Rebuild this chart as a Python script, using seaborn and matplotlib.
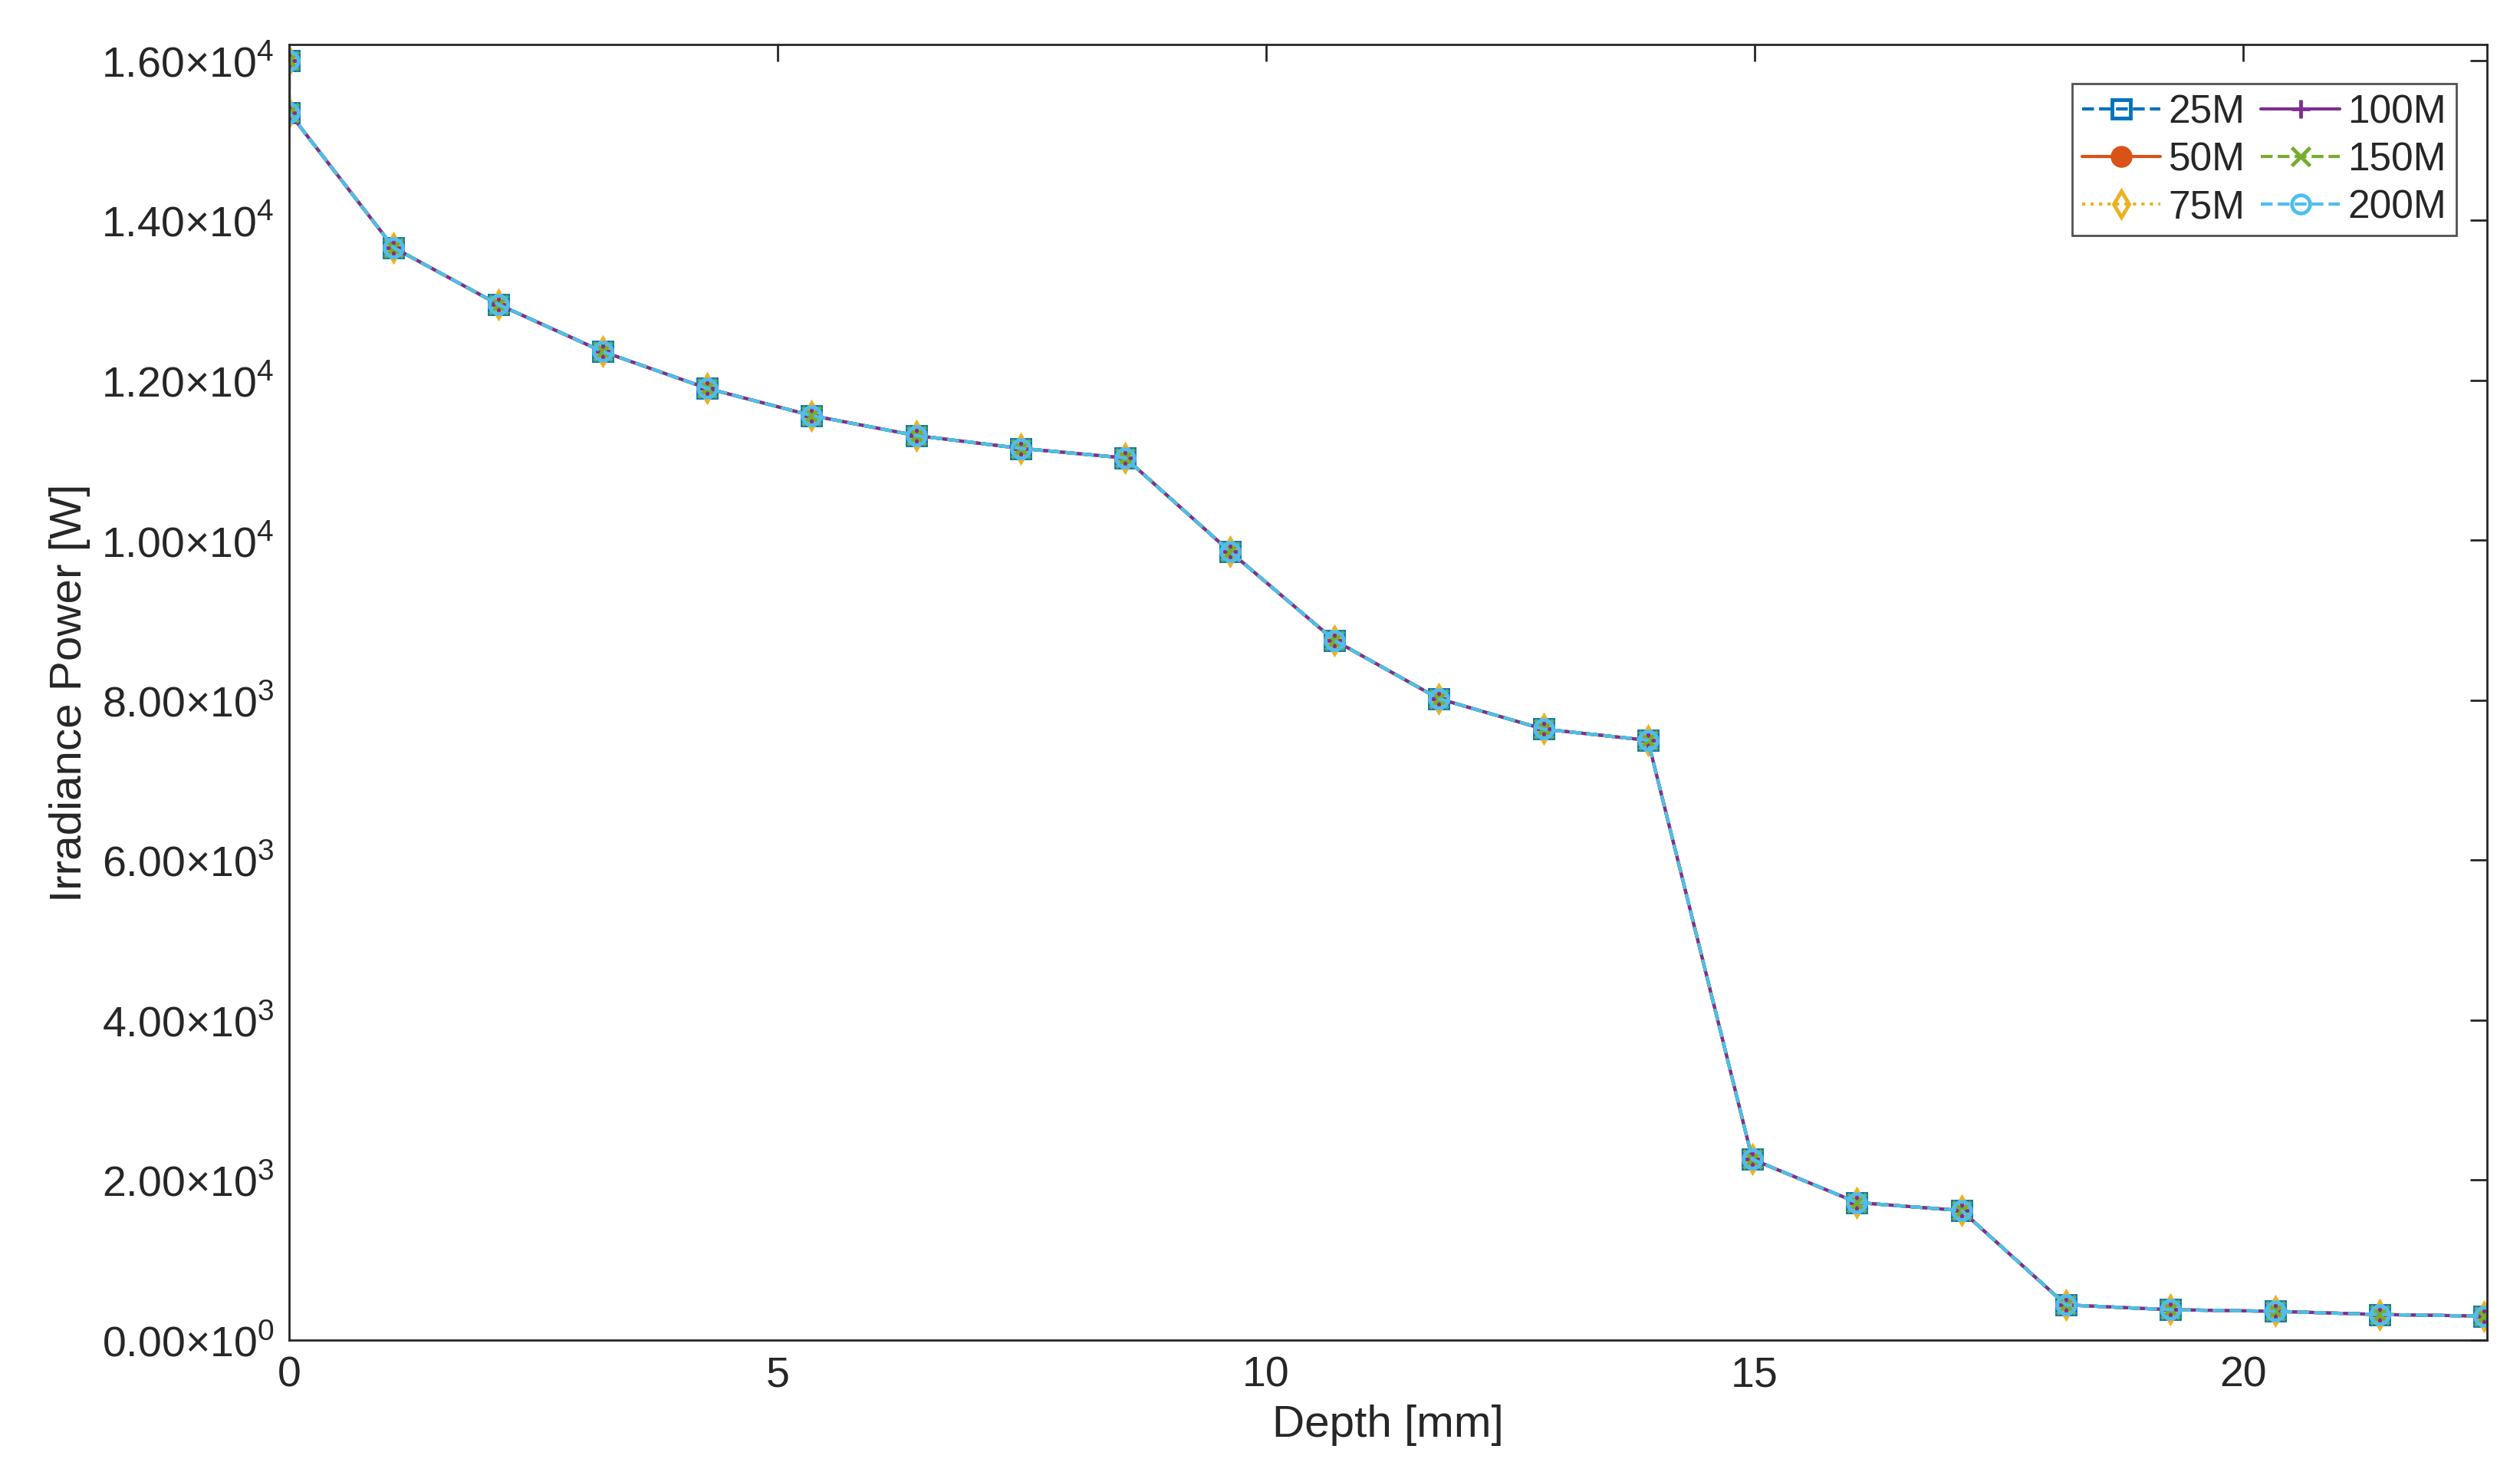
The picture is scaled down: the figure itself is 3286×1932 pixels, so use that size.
import numpy as np
import pandas as pd
import matplotlib
matplotlib.use("Agg")
import matplotlib.pyplot as plt
import seaborn as sns
from matplotlib.ticker import FuncFormatter

# depth [mm] and irradiance power [W] (all series identical)
depth = [0, 0, 1.07, 2.14, 3.21, 4.28, 5.35, 6.42, 7.49, 8.56, 9.63, 10.7,
         11.77, 12.84, 13.91, 14.98, 16.05, 17.12, 18.19, 19.26, 20.33, 21.4, 22.47]
power = [16000, 15350, 13660, 12950, 12360, 11900, 11560, 11310, 11150, 11030,
         9860, 8750, 8020, 7640, 7500, 2260, 1720, 1620, 440, 380, 360, 320, 300]
series = ["25M", "50M", "75M", "100M", "150M", "200M"]

styles = {
    "25M": dict(color="#0072BD", ls="--", marker="s", mfc="none"),
    "50M": dict(color="#D95319", ls="-", marker="o", mfc="#D95319"),
    "75M": dict(color="#EDB120", ls=":", marker="d", mfc="none"),
    "100M": dict(color="#7E2F8E", ls="-", marker="+", mfc="none"),
    "150M": dict(color="#77AC30", ls="--", marker="x", mfc="none"),
    "200M": dict(color="#4DBEEE", ls="--", marker="o", mfc="none"),
}

sns.set_style("white")
plt.rcParams["font.family"] = ["Liberation Sans", "DejaVu Sans"]
plt.rcParams["mathtext.fontset"] = "custom"
plt.rcParams["mathtext.rm"] = "Liberation Sans"

fig = plt.figure(figsize=(32.86, 19.33), dpi=100)
ax = fig.add_axes([377 / 3286, 1 - 1748 / 1933, (3243 - 377) / 3286, (1748 - 59) / 1933])

df = pd.DataFrame({"depth": depth, "power": power})
for name in series:
    st = styles[name]
    sns.lineplot(data=df, x="depth", y="power", ax=ax, sort=False, estimator=None,
                 color=st["color"], linestyle=st["ls"], marker=st["marker"],
                 markerfacecolor=st["mfc"], markeredgecolor=st["color"],
                 markersize=17, markeredgewidth=3.5, linewidth=3, label=name)

ax.set_xlim(0, 22.5)
ax.set_ylim(0, 16200)
ax.set_xticks([0, 5, 10, 15, 20])
ax.set_yticks(np.arange(0, 16001, 2000))


def sci(v, pos):
    if v == 0:
        return r"0.00$\times$10$^{0}$"
    e = int(np.floor(np.log10(v)))
    return r"%.2f$\times$10$^{%d}$" % (v / 10 ** e, e)


ax.yaxis.set_major_formatter(FuncFormatter(sci))
ax.tick_params(direction="in", length=16, width=2, labelsize=40, top=True, right=True,
               colors="#262626", pad=14)
for sp in ax.spines.values():
    sp.set_color("#262626")
    sp.set_linewidth(2)
ax.set_xlabel("Depth [mm]", fontsize=42, color="#262626", labelpad=8)
ax.set_ylabel("Irradiance Power [W]", fontsize=42, color="#262626", labelpad=10)

leg = ax.legend(loc="upper right", ncol=2, fontsize=37, handlelength=2.0,
                columnspacing=0.4, handletextpad=0.2, labelspacing=0.25,
                borderpad=0.25, fancybox=False, edgecolor="#262626",
                bbox_to_anchor=(0.995, 0.985))
leg.get_frame().set_linewidth(2)

fig.savefig("out.png", dpi=100)
